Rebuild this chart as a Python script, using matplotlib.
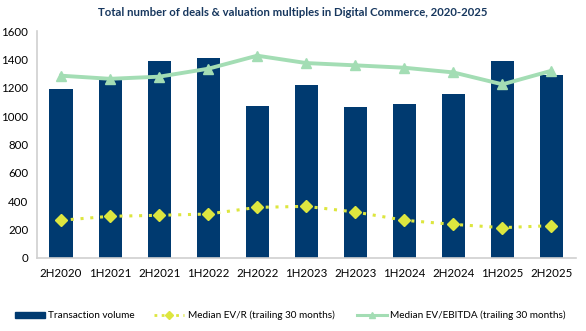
import numpy as np
import matplotlib.pyplot as plt
from matplotlib.lines import Line2D
from matplotlib.patches import Patch

plt.rcParams['font.family'] = ['Lato', 'DejaVu Sans']

BAR_COLOR = "#003A70"
EVR_COLOR = "#DDE63F"
EBITDA_COLOR = "#A3DDB4"
TITLE_COLOR = "#17375E"

# Data
periods = ["2H2020", "1H2021", "2H2021", "1H2022", "2H2022", "1H2023",
           "2H2023", "1H2024", "2H2024", "1H2025", "2H2025"]
volume = [1190, 1262, 1388, 1409, 1071, 1219, 1064, 1085, 1156, 1388, 1290]
ev_r = [266, 294, 301, 310, 357, 364, 324, 266, 237, 214, 228]
ev_ebitda = [1285, 1263, 1278, 1334, 1426, 1374, 1358, 1341, 1308, 1224, 1320]
yticks = [0, 200, 400, 600, 800, 1000, 1200, 1400, 1600]

x = np.arange(len(periods))

fig = plt.figure(figsize=(5.86, 3.31), dpi=100)
ax = fig.add_axes([36.5/586, 1 - 258/331, (576 - 36.5)/586, (258 - 31)/331])

ax.bar(x, volume, width=0.47, color=BAR_COLOR, zorder=1)
ax.plot(x, ev_r, linestyle=(0, (1, 2.2)), linewidth=2.2, color=EVR_COLOR,
        marker="D", markersize=6.3, zorder=3)
ax.plot(x, ev_ebitda, linestyle="-", linewidth=2.8, color=EBITDA_COLOR,
        marker="^", markersize=7, zorder=3)

ax.set_xlim(-0.5, len(periods) - 0.5)
ax.set_ylim(0, 1600)
ax.set_yticks(yticks)
ax.set_yticklabels([str(v) for v in yticks], fontsize=8.3)
ax.set_xticks(x)
ax.set_xticklabels(periods, fontsize=8.3)
ax.tick_params(length=0, pad=7)
ax.tick_params(axis="y", pad=6)

for side in ["top", "right"]:
    ax.spines[side].set_visible(False)
for side in ["left", "bottom"]:
    ax.spines[side].set_color("#D0D0D0")
    ax.spines[side].set_linewidth(1.2)

fig.text(0.5, 1 - 12.5/331, "Total number of deals & valuation multiples in Digital Commerce, 2020-2025",
         ha="center", va="center", fontsize=8.2, fontweight="bold", color=TITLE_COLOR)

# Legend entries placed one by one
entries = [
    (Patch(color=BAR_COLOR), "Transaction volume", 15),
    (Line2D([], [], linestyle=(0, (1, 1.6)), linewidth=2, color=EVR_COLOR,
            marker="D", markersize=4.5), "Median EV/R (trailing 30 months)", 154),
    (Line2D([], [], linestyle="-", linewidth=2.2, color=EBITDA_COLOR,
            marker="^", markersize=4.5), "Median EV/EBITDA (trailing 30 months)", 357),
]
for handle, label, x0 in entries:
    fig.legend([handle], [label], loc="center left", bbox_to_anchor=(x0/586, 1 - 315.7/331),
               frameon=False, fontsize=7.2, handlelength=3.0, handleheight=0.55,
               handletextpad=0.35, borderpad=0, borderaxespad=0)

fig.savefig("out.png", dpi=100)
